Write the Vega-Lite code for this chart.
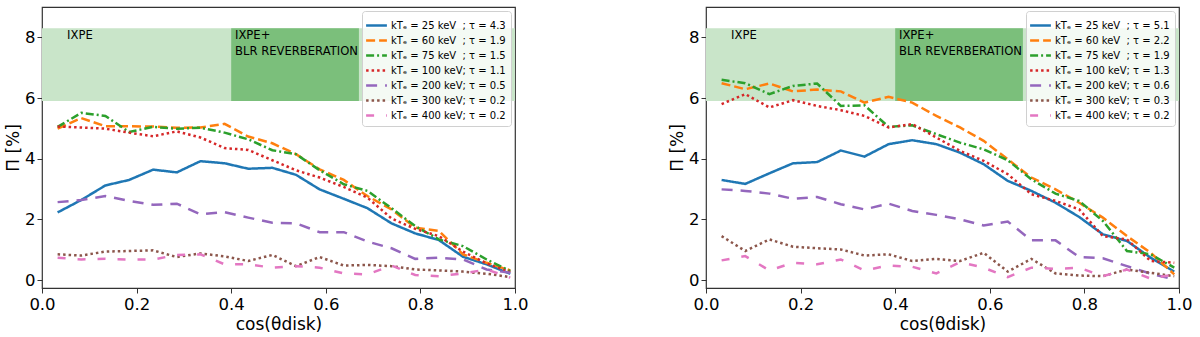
{
  "$schema": "https://vega.github.io/schema/vega-lite/v6.json",
  "padding": {"left": 3, "top": 6, "right": 0, "bottom": 0},
  "spacing": 138,
  "config": {
    "font": "DejaVu Sans",
    "view": {"stroke": "#333", "strokeWidth": 1.2},
    "axis": {"grid": false, "domain": false, "labelFlush": false, "tickColor": "#333", "tickSize": 5, "labelFontSize": 16.5, "titleFontSize": 17, "labelColor": "#000", "titleColor": "#000", "titleFontWeight": "normal", "labelFont": "DejaVu Sans", "titleFont": "DejaVu Sans"},
    "axisX": {"labelPadding": 3, "titlePadding": 4},
    "axisY": {"labelPadding": 2, "titlePadding": 2},
    "legend": {"orient": "top-right", "offset": 4, "symbolType": "M-1.3,0H1.3", "symbolStrokeWidth": 2.5, "symbolSize": 256, "symbolOffset": 0, "labelOffset": 5, "labelFontSize": 10, "labelFont": "DejaVu Sans", "labelColor": "#000", "fillColor": "rgba(255,255,255,0.8)", "strokeColor": "#d0d0d0", "padding": 5, "cornerRadius": 3, "rowPadding": 0, "labelLimit": 0}
  },
  "resolve": {"scale": {"color": "independent", "strokeDash": "independent"}, "legend": {"color": "independent", "strokeDash": "independent"}},
  "datasets": {
    "bandLight": [{"x": 0, "x2": 1, "y": 5.9, "y2": 8.3}],
    "bandDark": [{"x": 0.4, "x2": 0.67, "y": 5.9, "y2": 8.3}],
    "notes": [{"x": 0.053, "y": 8.03, "t": "IXPE"}, {"x": 0.408, "y": 8.03, "t": "IXPE+"}, {"x": 0.408, "y": 7.53, "t": "BLR REVERBERATION"}],
    "left": [
      {"x":0.033,"y":2.23,"k":"25"},{"x":0.083,"y":2.64,"k":"25"},{"x":0.134,"y":3.12,"k":"25"},{"x":0.184,"y":3.30,"k":"25"},{"x":0.235,"y":3.64,"k":"25"},{"x":0.285,"y":3.55,"k":"25"},{"x":0.335,"y":3.92,"k":"25"},{"x":0.386,"y":3.85,"k":"25"},{"x":0.436,"y":3.67,"k":"25"},{"x":0.487,"y":3.70,"k":"25"},{"x":0.537,"y":3.47,"k":"25"},{"x":0.587,"y":2.99,"k":"25"},{"x":0.638,"y":2.68,"k":"25"},{"x":0.688,"y":2.37,"k":"25"},{"x":0.739,"y":1.87,"k":"25"},{"x":0.789,"y":1.54,"k":"25"},{"x":0.839,"y":1.32,"k":"25"},{"x":0.890,"y":0.77,"k":"25"},{"x":0.940,"y":0.52,"k":"25"},{"x":0.990,"y":0.21,"k":"25"},
      {"x":0.033,"y":4.99,"k":"60"},{"x":0.083,"y":5.34,"k":"60"},{"x":0.134,"y":5.07,"k":"60"},{"x":0.184,"y":5.07,"k":"60"},{"x":0.235,"y":5.06,"k":"60"},{"x":0.285,"y":5.02,"k":"60"},{"x":0.335,"y":5.03,"k":"60"},{"x":0.386,"y":5.15,"k":"60"},{"x":0.436,"y":4.73,"k":"60"},{"x":0.487,"y":4.51,"k":"60"},{"x":0.537,"y":4.15,"k":"60"},{"x":0.587,"y":3.65,"k":"60"},{"x":0.638,"y":3.30,"k":"60"},{"x":0.688,"y":2.77,"k":"60"},{"x":0.739,"y":2.33,"k":"60"},{"x":0.789,"y":1.73,"k":"60"},{"x":0.839,"y":1.62,"k":"60"},{"x":0.890,"y":0.85,"k":"60"},{"x":0.940,"y":0.57,"k":"60"},{"x":0.990,"y":0.32,"k":"60"},
      {"x":0.033,"y":5.05,"k":"75"},{"x":0.083,"y":5.51,"k":"75"},{"x":0.134,"y":5.41,"k":"75"},{"x":0.184,"y":4.88,"k":"75"},{"x":0.235,"y":5.05,"k":"75"},{"x":0.285,"y":4.99,"k":"75"},{"x":0.335,"y":5.02,"k":"75"},{"x":0.386,"y":4.86,"k":"75"},{"x":0.436,"y":4.64,"k":"75"},{"x":0.487,"y":4.28,"k":"75"},{"x":0.537,"y":4.15,"k":"75"},{"x":0.587,"y":3.62,"k":"75"},{"x":0.638,"y":3.16,"k":"75"},{"x":0.688,"y":2.94,"k":"75"},{"x":0.739,"y":2.37,"k":"75"},{"x":0.789,"y":1.78,"k":"75"},{"x":0.839,"y":1.34,"k":"75"},{"x":0.890,"y":1.12,"k":"75"},{"x":0.940,"y":0.68,"k":"75"},{"x":0.990,"y":0.30,"k":"75"},
      {"x":0.033,"y":5.06,"k":"100"},{"x":0.083,"y":5.03,"k":"100"},{"x":0.134,"y":4.99,"k":"100"},{"x":0.184,"y":4.86,"k":"100"},{"x":0.235,"y":4.74,"k":"100"},{"x":0.285,"y":4.90,"k":"100"},{"x":0.335,"y":4.70,"k":"100"},{"x":0.386,"y":4.35,"k":"100"},{"x":0.436,"y":4.29,"k":"100"},{"x":0.487,"y":3.95,"k":"100"},{"x":0.537,"y":3.62,"k":"100"},{"x":0.587,"y":3.38,"k":"100"},{"x":0.638,"y":3.07,"k":"100"},{"x":0.688,"y":2.72,"k":"100"},{"x":0.739,"y":2.03,"k":"100"},{"x":0.789,"y":1.69,"k":"100"},{"x":0.839,"y":1.45,"k":"100"},{"x":0.890,"y":0.94,"k":"100"},{"x":0.940,"y":0.55,"k":"100"},{"x":0.990,"y":0.26,"k":"100"},
      {"x":0.033,"y":2.57,"k":"200"},{"x":0.083,"y":2.64,"k":"200"},{"x":0.134,"y":2.77,"k":"200"},{"x":0.184,"y":2.61,"k":"200"},{"x":0.235,"y":2.48,"k":"200"},{"x":0.285,"y":2.52,"k":"200"},{"x":0.335,"y":2.17,"k":"200"},{"x":0.386,"y":2.24,"k":"200"},{"x":0.436,"y":2.06,"k":"200"},{"x":0.487,"y":1.89,"k":"200"},{"x":0.537,"y":1.87,"k":"200"},{"x":0.587,"y":1.58,"k":"200"},{"x":0.638,"y":1.58,"k":"200"},{"x":0.688,"y":1.27,"k":"200"},{"x":0.739,"y":1.05,"k":"200"},{"x":0.789,"y":0.70,"k":"200"},{"x":0.839,"y":0.74,"k":"200"},{"x":0.890,"y":0.68,"k":"200"},{"x":0.940,"y":0.35,"k":"200"},{"x":0.990,"y":0.24,"k":"200"},
      {"x":0.033,"y":0.85,"k":"300"},{"x":0.083,"y":0.81,"k":"300"},{"x":0.134,"y":0.94,"k":"300"},{"x":0.184,"y":0.96,"k":"300"},{"x":0.235,"y":0.98,"k":"300"},{"x":0.285,"y":0.76,"k":"300"},{"x":0.335,"y":0.88,"k":"300"},{"x":0.386,"y":0.78,"k":"300"},{"x":0.436,"y":0.63,"k":"300"},{"x":0.487,"y":0.83,"k":"300"},{"x":0.537,"y":0.46,"k":"300"},{"x":0.587,"y":0.76,"k":"300"},{"x":0.638,"y":0.48,"k":"300"},{"x":0.688,"y":0.50,"k":"300"},{"x":0.739,"y":0.46,"k":"300"},{"x":0.789,"y":0.35,"k":"300"},{"x":0.839,"y":0.32,"k":"300"},{"x":0.890,"y":0.28,"k":"300"},{"x":0.940,"y":0.21,"k":"300"},{"x":0.990,"y":0.10,"k":"300"},
      {"x":0.033,"y":0.74,"k":"400"},{"x":0.083,"y":0.68,"k":"400"},{"x":0.134,"y":0.70,"k":"400"},{"x":0.184,"y":0.68,"k":"400"},{"x":0.235,"y":0.68,"k":"400"},{"x":0.285,"y":0.83,"k":"400"},{"x":0.335,"y":0.85,"k":"400"},{"x":0.386,"y":0.52,"k":"400"},{"x":0.436,"y":0.52,"k":"400"},{"x":0.487,"y":0.41,"k":"400"},{"x":0.537,"y":0.46,"k":"400"},{"x":0.587,"y":0.41,"k":"400"},{"x":0.638,"y":0.22,"k":"400"},{"x":0.688,"y":0.19,"k":"400"},{"x":0.739,"y":0.48,"k":"400"},{"x":0.789,"y":0.17,"k":"400"},{"x":0.839,"y":0.13,"k":"400"},{"x":0.890,"y":0.22,"k":"400"},{"x":0.940,"y":0.35,"k":"400"},{"x":0.990,"y":0.08,"k":"400"}
    ],
    "right": [
      {"x":0.033,"y":3.30,"k":"25"},{"x":0.083,"y":3.17,"k":"25"},{"x":0.134,"y":3.52,"k":"25"},{"x":0.184,"y":3.85,"k":"25"},{"x":0.235,"y":3.89,"k":"25"},{"x":0.285,"y":4.27,"k":"25"},{"x":0.335,"y":4.07,"k":"25"},{"x":0.386,"y":4.48,"k":"25"},{"x":0.436,"y":4.61,"k":"25"},{"x":0.487,"y":4.48,"k":"25"},{"x":0.537,"y":4.20,"k":"25"},{"x":0.587,"y":3.82,"k":"25"},{"x":0.638,"y":3.27,"k":"25"},{"x":0.688,"y":2.94,"k":"25"},{"x":0.739,"y":2.55,"k":"25"},{"x":0.789,"y":2.08,"k":"25"},{"x":0.839,"y":1.51,"k":"25"},{"x":0.890,"y":1.29,"k":"25"},{"x":0.940,"y":0.74,"k":"25"},{"x":0.990,"y":0.28,"k":"25"},
      {"x":0.033,"y":6.49,"k":"60"},{"x":0.083,"y":6.29,"k":"60"},{"x":0.134,"y":6.48,"k":"60"},{"x":0.184,"y":6.22,"k":"60"},{"x":0.235,"y":6.28,"k":"60"},{"x":0.285,"y":6.22,"k":"60"},{"x":0.335,"y":5.85,"k":"60"},{"x":0.386,"y":6.04,"k":"60"},{"x":0.436,"y":5.85,"k":"60"},{"x":0.487,"y":5.41,"k":"60"},{"x":0.537,"y":5.03,"k":"60"},{"x":0.587,"y":4.59,"k":"60"},{"x":0.638,"y":3.98,"k":"60"},{"x":0.688,"y":3.38,"k":"60"},{"x":0.739,"y":2.99,"k":"60"},{"x":0.789,"y":2.55,"k":"60"},{"x":0.839,"y":2.06,"k":"60"},{"x":0.890,"y":1.45,"k":"60"},{"x":0.940,"y":0.90,"k":"60"},{"x":0.990,"y":0.19,"k":"60"},
      {"x":0.033,"y":6.60,"k":"75"},{"x":0.083,"y":6.49,"k":"75"},{"x":0.134,"y":6.13,"k":"75"},{"x":0.184,"y":6.40,"k":"75"},{"x":0.235,"y":6.48,"k":"75"},{"x":0.285,"y":5.74,"k":"75"},{"x":0.335,"y":5.76,"k":"75"},{"x":0.386,"y":5.05,"k":"75"},{"x":0.436,"y":5.10,"k":"75"},{"x":0.487,"y":4.81,"k":"75"},{"x":0.537,"y":4.53,"k":"75"},{"x":0.587,"y":4.31,"k":"75"},{"x":0.638,"y":3.95,"k":"75"},{"x":0.688,"y":3.32,"k":"75"},{"x":0.739,"y":2.85,"k":"75"},{"x":0.789,"y":2.61,"k":"75"},{"x":0.839,"y":1.95,"k":"75"},{"x":0.890,"y":0.96,"k":"75"},{"x":0.940,"y":0.85,"k":"75"},{"x":0.990,"y":0.41,"k":"75"},
      {"x":0.033,"y":5.80,"k":"100"},{"x":0.083,"y":6.13,"k":"100"},{"x":0.134,"y":5.69,"k":"100"},{"x":0.184,"y":5.93,"k":"100"},{"x":0.235,"y":5.74,"k":"100"},{"x":0.285,"y":5.60,"k":"100"},{"x":0.335,"y":5.41,"k":"100"},{"x":0.386,"y":5.03,"k":"100"},{"x":0.436,"y":5.14,"k":"100"},{"x":0.487,"y":4.70,"k":"100"},{"x":0.537,"y":4.26,"k":"100"},{"x":0.587,"y":3.93,"k":"100"},{"x":0.638,"y":3.49,"k":"100"},{"x":0.688,"y":2.83,"k":"100"},{"x":0.739,"y":2.61,"k":"100"},{"x":0.789,"y":2.33,"k":"100"},{"x":0.839,"y":1.45,"k":"100"},{"x":0.890,"y":1.34,"k":"100"},{"x":0.940,"y":0.63,"k":"100"},{"x":0.990,"y":0.57,"k":"100"},
      {"x":0.033,"y":2.99,"k":"200"},{"x":0.083,"y":2.94,"k":"200"},{"x":0.134,"y":2.85,"k":"200"},{"x":0.184,"y":2.68,"k":"200"},{"x":0.235,"y":2.74,"k":"200"},{"x":0.285,"y":2.50,"k":"200"},{"x":0.335,"y":2.33,"k":"200"},{"x":0.386,"y":2.52,"k":"200"},{"x":0.436,"y":2.28,"k":"200"},{"x":0.487,"y":2.15,"k":"200"},{"x":0.537,"y":2.00,"k":"200"},{"x":0.587,"y":1.80,"k":"200"},{"x":0.638,"y":1.93,"k":"200"},{"x":0.688,"y":1.31,"k":"200"},{"x":0.739,"y":1.31,"k":"200"},{"x":0.789,"y":0.76,"k":"200"},{"x":0.839,"y":0.72,"k":"200"},{"x":0.890,"y":0.46,"k":"200"},{"x":0.940,"y":0.21,"k":"200"},{"x":0.990,"y":0.02,"k":"200"},
      {"x":0.033,"y":1.45,"k":"300"},{"x":0.083,"y":0.96,"k":"300"},{"x":0.134,"y":1.34,"k":"300"},{"x":0.184,"y":1.10,"k":"300"},{"x":0.235,"y":1.05,"k":"300"},{"x":0.285,"y":1.01,"k":"300"},{"x":0.335,"y":0.81,"k":"300"},{"x":0.386,"y":0.85,"k":"300"},{"x":0.436,"y":0.63,"k":"300"},{"x":0.487,"y":0.70,"k":"300"},{"x":0.537,"y":0.63,"k":"300"},{"x":0.587,"y":0.90,"k":"300"},{"x":0.638,"y":0.28,"k":"300"},{"x":0.688,"y":0.70,"k":"300"},{"x":0.739,"y":0.22,"k":"300"},{"x":0.789,"y":0.15,"k":"300"},{"x":0.839,"y":0.13,"k":"300"},{"x":0.890,"y":0.35,"k":"300"},{"x":0.940,"y":0.24,"k":"300"},{"x":0.990,"y":0.13,"k":"300"},
      {"x":0.033,"y":0.65,"k":"400"},{"x":0.083,"y":0.79,"k":"400"},{"x":0.134,"y":0.32,"k":"400"},{"x":0.184,"y":0.57,"k":"400"},{"x":0.235,"y":0.52,"k":"400"},{"x":0.285,"y":0.68,"k":"400"},{"x":0.335,"y":0.32,"k":"400"},{"x":0.386,"y":0.48,"k":"400"},{"x":0.436,"y":0.44,"k":"400"},{"x":0.487,"y":0.22,"k":"400"},{"x":0.537,"y":0.59,"k":"400"},{"x":0.587,"y":0.41,"k":"400"},{"x":0.638,"y":0.10,"k":"400"},{"x":0.688,"y":0.41,"k":"400"},{"x":0.739,"y":0.37,"k":"400"},{"x":0.789,"y":0.41,"k":"400"},{"x":0.839,"y":0.13,"k":"400"},{"x":0.890,"y":0.35,"k":"400"},{"x":0.940,"y":0.05,"k":"400"},{"x":0.990,"y":0.19,"k":"400"}
    ]
  },
  "hconcat": [
    {
      "width": 473, "height": 281,
      "layer": [
        {"data": {"name": "bandLight"}, "mark": {"type": "rect", "color": "#c9e5c9"},
         "encoding": {"x": {"field": "x", "type": "quantitative", "scale": {"domain": [0, 1], "nice": false, "zero": false}, "axis": {"values": [0, 0.2, 0.4, 0.6, 0.8, 1.0], "format": ".1f"}, "title": "cos(θdisk)"}, "x2": {"field": "x2"},
                      "y": {"field": "y", "type": "quantitative", "scale": {"domain": [-0.26, 9.0], "nice": false, "zero": false}, "axis": {"values": [0, 2, 4, 6, 8], "format": "d"}, "title": "Π [%]"}, "y2": {"field": "y2"}}},
        {"data": {"name": "bandDark"}, "mark": {"type": "rect", "color": "#7bbf7b"},
         "encoding": {"x": {"field": "x", "type": "quantitative", "title": "cos(θdisk)"}, "x2": {"field": "x2"}, "y": {"field": "y", "type": "quantitative", "title": "Π [%]"}, "y2": {"field": "y2"}}},
        {"data": {"name": "notes"}, "mark": {"type": "text", "align": "left", "baseline": "middle", "fontSize": 11.6, "color": "#000"},
         "encoding": {"x": {"field": "x", "type": "quantitative", "title": "cos(θdisk)"}, "y": {"field": "y", "type": "quantitative", "title": "Π [%]"}, "text": {"field": "t"}}},
        {"data": {"name": "left"}, "mark": {"type": "line", "strokeWidth": 2.5},
         "encoding": {
           "x": {"field": "x", "type": "quantitative", "title": "cos(θdisk)"},
           "y": {"field": "y", "type": "quantitative", "title": "Π [%]"},
           "color": {"field": "k", "type": "nominal", "scale": {"domain": ["25", "60", "75", "100", "200", "300", "400"], "range": ["#1f77b4", "#ff7f0e", "#2ca02c", "#d62728", "#9467bd", "#8c564b", "#e377c2"]},
             "legend": {"title": null, "labelExpr": "{'25':'kTₑ = 25 keV\u00a0\u00a0; τ = 4.3','60':'kTₑ = 60 keV\u00a0\u00a0; τ = 1.9','75':'kTₑ = 75 keV\u00a0\u00a0; τ = 1.5','100':'kTₑ = 100 keV; τ = 1.1','200':'kTₑ = 200 keV; τ = 0.5','300':'kTₑ = 300 keV; τ = 0.2','400':'kTₑ = 400 keV; τ = 0.2'}[datum.label]"}},
           "strokeDash": {"field": "k", "type": "nominal", "scale": {"domain": ["25", "60", "75", "100", "200", "300", "400"], "range": [[1, 0], [9, 4], [8, 3, 2, 3], [2.5, 3], [11, 8], [2.5, 3], [8, 12]]},
             "legend": {"title": null, "labelExpr": "{'25':'kTₑ = 25 keV\u00a0\u00a0; τ = 4.3','60':'kTₑ = 60 keV\u00a0\u00a0; τ = 1.9','75':'kTₑ = 75 keV\u00a0\u00a0; τ = 1.5','100':'kTₑ = 100 keV; τ = 1.1','200':'kTₑ = 200 keV; τ = 0.5','300':'kTₑ = 300 keV; τ = 0.2','400':'kTₑ = 400 keV; τ = 0.2'}[datum.label]"}}
         }}
      ]
    },
    {
      "width": 473, "height": 281,
      "layer": [
        {"data": {"name": "bandLight"}, "mark": {"type": "rect", "color": "#c9e5c9"},
         "encoding": {"x": {"field": "x", "type": "quantitative", "scale": {"domain": [0, 1], "nice": false, "zero": false}, "axis": {"values": [0, 0.2, 0.4, 0.6, 0.8, 1.0], "format": ".1f"}, "title": "cos(θdisk)"}, "x2": {"field": "x2"},
                      "y": {"field": "y", "type": "quantitative", "scale": {"domain": [-0.26, 9.0], "nice": false, "zero": false}, "axis": {"values": [0, 2, 4, 6, 8], "format": "d"}, "title": "Π [%]"}, "y2": {"field": "y2"}}},
        {"data": {"name": "bandDark"}, "mark": {"type": "rect", "color": "#7bbf7b"},
         "encoding": {"x": {"field": "x", "type": "quantitative", "title": "cos(θdisk)"}, "x2": {"field": "x2"}, "y": {"field": "y", "type": "quantitative", "title": "Π [%]"}, "y2": {"field": "y2"}}},
        {"data": {"name": "notes"}, "mark": {"type": "text", "align": "left", "baseline": "middle", "fontSize": 11.6, "color": "#000"},
         "encoding": {"x": {"field": "x", "type": "quantitative", "title": "cos(θdisk)"}, "y": {"field": "y", "type": "quantitative", "title": "Π [%]"}, "text": {"field": "t"}}},
        {"data": {"name": "right"}, "mark": {"type": "line", "strokeWidth": 2.5},
         "encoding": {
           "x": {"field": "x", "type": "quantitative", "title": "cos(θdisk)"},
           "y": {"field": "y", "type": "quantitative", "title": "Π [%]"},
           "color": {"field": "k", "type": "nominal", "scale": {"domain": ["25", "60", "75", "100", "200", "300", "400"], "range": ["#1f77b4", "#ff7f0e", "#2ca02c", "#d62728", "#9467bd", "#8c564b", "#e377c2"]},
             "legend": {"title": null, "labelExpr": "{'25':'kTₑ = 25 keV\u00a0\u00a0; τ = 5.1','60':'kTₑ = 60 keV\u00a0\u00a0; τ = 2.2','75':'kTₑ = 75 keV\u00a0\u00a0; τ = 1.9','100':'kTₑ = 100 keV; τ = 1.3','200':'kTₑ = 200 keV; τ = 0.6','300':'kTₑ = 300 keV; τ = 0.3','400':'kTₑ = 400 keV; τ = 0.2'}[datum.label]"}},
           "strokeDash": {"field": "k", "type": "nominal", "scale": {"domain": ["25", "60", "75", "100", "200", "300", "400"], "range": [[1, 0], [9, 4], [8, 3, 2, 3], [2.5, 3], [11, 8], [2.5, 3], [8, 12]]},
             "legend": {"title": null, "labelExpr": "{'25':'kTₑ = 25 keV\u00a0\u00a0; τ = 5.1','60':'kTₑ = 60 keV\u00a0\u00a0; τ = 2.2','75':'kTₑ = 75 keV\u00a0\u00a0; τ = 1.9','100':'kTₑ = 100 keV; τ = 1.3','200':'kTₑ = 200 keV; τ = 0.6','300':'kTₑ = 300 keV; τ = 0.3','400':'kTₑ = 400 keV; τ = 0.2'}[datum.label]"}}
         }}
      ]
    }
  ]
}
